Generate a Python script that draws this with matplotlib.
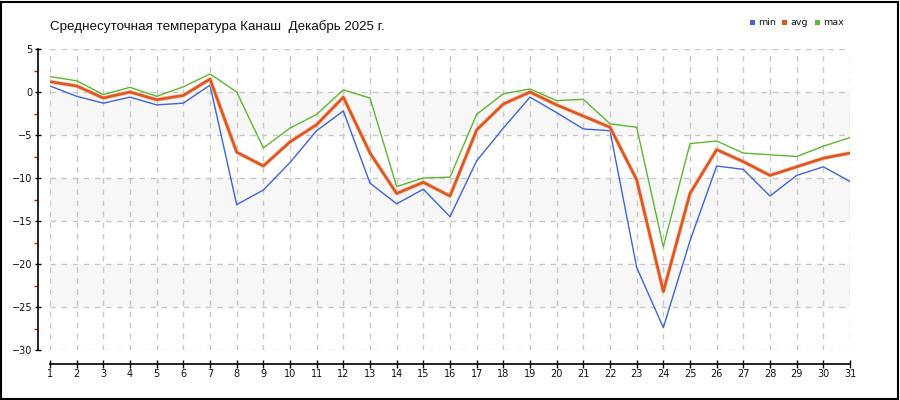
import matplotlib
matplotlib.use("Agg")
import matplotlib.pyplot as plt
from matplotlib.patches import Rectangle
import numpy as np

days = list(range(1, 32))
t_min = [0.7, -0.5, -1.3, -0.6, -1.5, -1.3, 0.8, -13.1, -11.4, -8.2, -4.5, -2.2, -10.6,
         -13.0, -11.3, -14.5, -8.0, -4.2, -0.6, -2.4, -4.3, -4.5, -20.4, -27.4, -17.3,
         -8.6, -9.0, -12.1, -9.7, -8.7, -10.4]
t_avg = [1.2, 0.7, -0.7, 0.0, -0.9, -0.4, 1.5, -7.0, -8.6, -5.8, -3.8, -0.6, -7.1,
         -11.8, -10.5, -12.1, -4.4, -1.4, 0.0, -1.5, -2.8, -4.1, -10.2, -23.2, -11.8,
         -6.7, -8.1, -9.7, -8.7, -7.7, -7.1]
t_max = [1.8, 1.3, -0.3, 0.55, -0.5, 0.6, 2.1, 0.0, -6.5, -4.2, -2.6, 0.25, -0.7,
         -11.0, -10.0, -9.9, -2.6, -0.2, 0.35, -1.0, -0.85, -3.7, -4.1, -18.0, -6.0,
         -5.7, -7.1, -7.3, -7.5, -6.3, -5.3]
series_names = ["min", "avg", "max"]
y_ticks = [5, 0, -5, -10, -15, -20, -25, -30]
title = "Среднесуточная температура Канаш  Декабрь 2025 г."

W, H = 900, 400
fig = plt.figure(figsize=(9, 4), dpi=100)
fig.patch.set_facecolor("white")

# axes in pixel coords: x 50..850, y 49..350 (from top)
x0, x1, ytop, ybot = 50, 850, 49, 350
ax = fig.add_axes([x0 / W, 1 - ybot / H, (x1 - x0) / W, (ybot - ytop) / H])
ax.set_xlim(1, 31)
ax.set_ylim(-30, 5)

c_min = "#3f63e0"
c_avg = "#e0561f"
c_max = "#5cb82e"

for lo, hi in [(-5, 0), (-15, -10), (-25, -20)]:
    ax.axhspan(lo, hi, color="#f7f7f7", zorder=0, lw=0)

ax.set_xticks(days)
ax.set_xticklabels([str(d) for d in days])
ax.set_yticks(y_ticks)
ax.set_yticks(np.arange(-27.5, 5, 5), minor=True)
ax.grid(True, which="major", color="#c8c8c8", linestyle=(0, (4, 4)), linewidth=1, zorder=1)

ax.plot(days, t_min, color=c_min, lw=1.0, zorder=3)
ax.plot(days, t_max, color=c_max, lw=1.0, zorder=3)
ax.plot(days, t_avg, color="#f5c2ad", lw=2.9, zorder=4)
ax.plot(days, t_avg, color=c_avg, lw=1.9, zorder=5)

for s in ["top", "right"]:
    ax.spines[s].set_visible(False)
ax.spines["left"].set_position(("outward", 9))
ax.spines["bottom"].set_position(("outward", 10))
ax.spines["left"].set_linewidth(1.2)
ax.spines["bottom"].set_linewidth(1.2)
ax.tick_params(axis="y", which="major", direction="inout", length=5, width=1,
               labelsize=7, pad=1)
ax.tick_params(axis="y", which="minor", direction="out", length=3, width=1, color="red")
ax.tick_params(axis="x", which="major", direction="inout", length=6, width=1,
               labelsize=7, pad=1)
for lab in ax.get_xticklabels() + ax.get_yticklabels():
    lab.set_family("DejaVu Sans")
    lab.set_color("#111111")

fig.text(50 / W, 1 - 27 / H, title, fontsize=9.6, family="Liberation Sans",
         color="#111111", va="center", ha="left")

# legend
leg_x = [750, 782, 815]
leg_c = [c_min, c_avg, c_max]
for xp, c, name in zip(leg_x, leg_c, series_names):
    fig.patches.append(Rectangle((xp / W, 1 - 25 / H), 5 / W, 5 / H, transform=fig.transFigure,
                                 facecolor=c, edgecolor="none"))
    fig.text((xp + 8) / W, 1 - 22.5 / H, name, fontsize=6.8, family="DejaVu Sans",
             color="#111111", va="center", ha="left")

# outer frame
fig.patches.append(Rectangle((0.5 / W, 1.5 / H), (W - 3) / W, (H - 3) / H,
                             transform=fig.transFigure, facecolor="none",
                             edgecolor="black", lw=1.5))

fig.savefig("out.png", dpi=100)
